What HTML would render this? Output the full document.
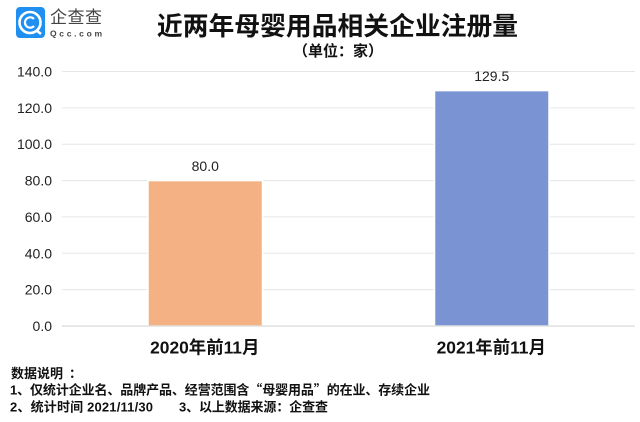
<!DOCTYPE html>
<html lang="zh">
<head>
<meta charset="utf-8">
<title>近两年母婴用品相关企业注册量</title>
<style>
html,body{margin:0;padding:0;background:#fff;}
body{width:640px;height:422px;overflow:hidden;position:relative;}
svg{display:block;position:absolute;left:0;top:0;}
text{font-family:"Liberation Sans","Noto Sans CJK SC",sans-serif;}
.cjk{font-family:"Noto Sans CJK SC",sans-serif;}
</style>
</head>
<body>
<svg id="chart" width="640" height="422" viewBox="0 0 640 422">
  <g>
    <rect x="16" y="7" width="29" height="31" rx="4" fill="#1f8ff2"/>
    <circle cx="30" cy="22.5" r="10.5" fill="none" stroke="#fff" stroke-width="2.6"/>
    <path d="M34 19 A5.2 5.2 0 1 0 34 26" fill="none" stroke="#fff" stroke-width="2.2"/>
    <line x1="36" y1="30" x2="41" y2="34" stroke="#fff" stroke-width="2.6"/>
    <text x="50" y="23" font-size="17" fill="#444" textLength="52">企查查</text>
    <text x="50" y="36.5" font-size="8.5" font-weight="bold" fill="#444" textLength="52">Qcc.com</text>
  </g>
  <text x="337.5" y="35" text-anchor="middle" font-size="25.8" font-weight="bold" fill="#111">近两年母婴用品相关企业注册量</text>
  <text x="338" y="56" text-anchor="middle" font-size="15" font-weight="bold" fill="#111">（单位：家）</text>
  <g id="grid"></g>
  <g id="yticks"></g>
  <g id="bars"></g>
  <g id="axis"></g>
  <g id="xticks"></g>
  <g font-size="13" font-weight="bold" fill="#111">
    <text x="11" y="378">数据说明<tspan x="69">：</tspan></text>
    <text x="10" y="394.5" textLength="420">1、仅统计企业名、品牌产品、经营范围含<tspan class="cjk">“</tspan>母婴用品<tspan class="cjk">”</tspan>的在业、存续企业</text>
    <text x="10" y="411.5" textLength="143">2、统计时间 2021/11/30</text>
    <text x="179" y="411.5" textLength="149">3、以上数据来源：企查查</text>
  </g>
</svg>
<script>
const categories = ["2020年前11月", "2021年前11月"];
const seriesValues = [80.0, 129.5];
const valueLabels = ["80.0", "129.5"];
const tickValues = [0, 20, 40, 60, 80, 100, 120, 140];
const tickLabels = ["0.0", "20.0", "40.0", "60.0", "80.0", "100.0", "120.0", "140.0"];
const barColors = ["#f4b183", "#7a93d3"];

const NS = "http://www.w3.org/2000/svg";
const plotLeft = 62, plotRight = 635, plotTop = 71.5, plotBottom = 326, yMax = 140;
function yScale(v) { return plotBottom - (v / yMax) * (plotBottom - plotTop); }
function xCenter(i) { return plotLeft + (i + 0.5) * (plotRight - plotLeft) / categories.length; }
function make(parent, tag, attrs, text) {
  const el = document.createElementNS(NS, tag);
  for (const k in attrs) el.setAttribute(k, attrs[k]);
  if (text !== undefined) el.textContent = text;
  parent.appendChild(el);
  return el;
}
const gridG = document.getElementById("grid");
const axisG = document.getElementById("axis");
const yG = document.getElementById("yticks");
const barsG = document.getElementById("bars");
const xG = document.getElementById("xticks");

tickValues.forEach(function (v, i) {
  const y = yScale(v);
  const line = make(v === 0 ? axisG : gridG, "line", { x1: plotLeft, x2: plotRight, y1: y, y2: y, stroke: v === 0 ? "#d0d0d0" : "#e6e6e6", "stroke-width": 1 });
  
  
  const label = make(yG, "text", { x: 52, y: y + 5, "text-anchor": "end", "font-size": 14, fill: "#222" }, tickLabels[i]);
  
  
});

const barWidth = 114.5;
categories.forEach(function (c, i) {
  const cx = xCenter(i);
  const top = yScale(seriesValues[i]);
  const bar = make(barsG, "rect", { x: cx - barWidth / 2, y: top, width: barWidth, height: plotBottom - top, fill: barColors[i], stroke: "#fff", "stroke-width": 1.5 });
  
  
  const val = make(barsG, "text", { x: cx, y: top - 9.5, "text-anchor": "middle", "font-size": 14, fill: "#222" }, valueLabels[i]);
  
  
  const cat = make(xG, "text", { x: cx - 0.5, y: 353.5, "text-anchor": "middle", "font-size": 17.4, "font-weight": "bold", fill: "#111" }, c);
  
  
});
</script>
</body>
</html>
